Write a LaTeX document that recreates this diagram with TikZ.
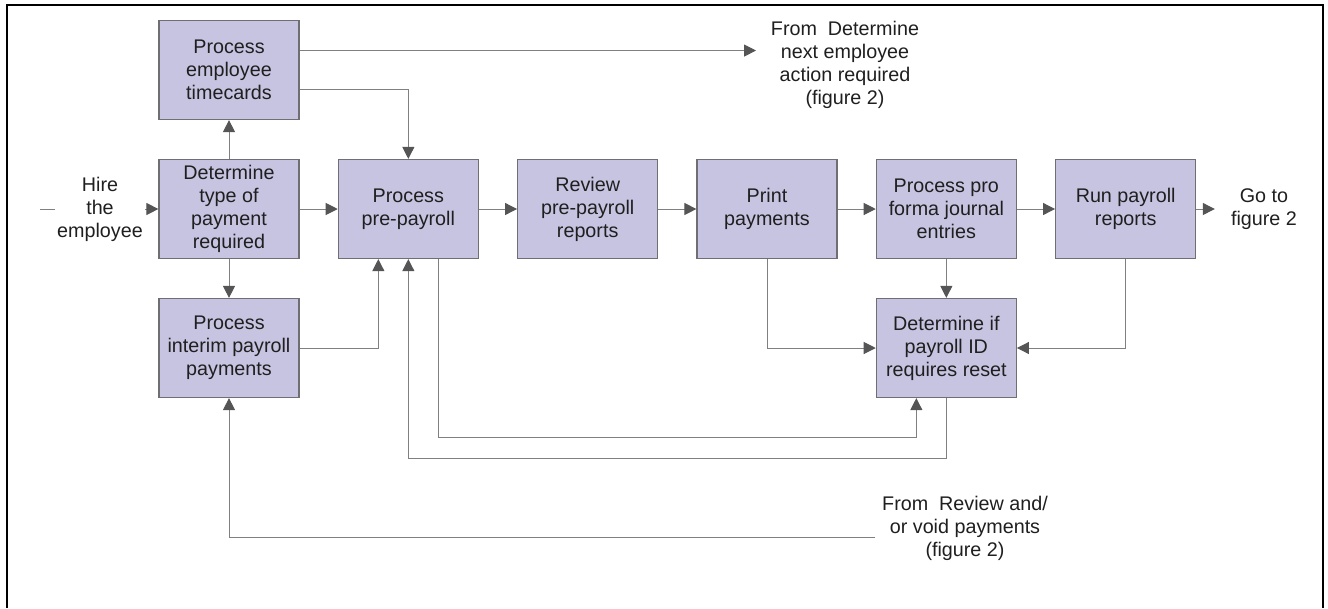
\documentclass[tikz,border=0pt]{standalone}
\usepackage{fontspec}
\setmainfont{Liberation Sans}
\usetikzlibrary{arrows.meta}

\definecolor{boxfill}{RGB}{198,196,225}
\definecolor{boxline}{RGB}{110,110,115}
\definecolor{linegray}{RGB}{128,128,128}
\definecolor{tipgray}{RGB}{85,85,85}

\tikzstyle{box}   = [rectangle, draw=boxline, fill=boxfill, line width=0.9pt, minimum width=105pt, minimum height=74.25pt, inner sep=2pt, align=center]
\tikzstyle{lbl}   = [align=center, inner sep=2pt]
\tikzstyle{arrow} = [draw=linegray, line width=0.75pt, -{Triangle[length=9pt, width=9pt, color=tipgray]}]

\begin{document}
\begin{tikzpicture}[x=0.75pt, y=-0.75pt, font=\fontsize{14.8}{17.3}\selectfont, text=black!88]
\useasboundingbox (0,0) rectangle (1328,608);
\draw [line width=1.7pt] (7,608) -- (7,5) -- (1323,5) -- (1323,608);

\node (det)   [box] at (229,209) {Determine\\type of\\payment\\required};
\node (time)  [box, node distance=104.25pt, above of=det]   {Process\\employee\\timecards};
\node (int)   [box, node distance=104.25pt, below of=det]   {Process\\interim payroll\\payments};
\node (pre)   [box, node distance=134.5pt, right of=det]    {Process\\pre-payroll};
\node (rev)   [box, node distance=134.5pt, right of=pre]    {Review\\pre-payroll\\reports};
\node (print) [box, node distance=134.5pt, right of=rev]    {Print\\payments};
\node (forma) [box, node distance=134.5pt, right of=print]  {Process pro\\forma journal\\entries};
\node (run)   [box, node distance=134.5pt, right of=forma]  {Run payroll\\reports};
\node (rst)   [box, node distance=104.25pt, below of=forma] {Determine if\\payroll ID\\requires reset};

\node (goto)     [lbl, inner sep=12pt] at (1264,209) {Go to\\figure 2};
\node (fromnext) [lbl, inner sep=11pt] at (845,65)   {From~~Determine\\next employee\\action required\\(figure 2)};
\node (fromrev)  [lbl, inner sep=5pt]  at (965,528)  {From~~Review and/\\or void payments\\(figure 2)};

\coordinate (hirestart) at (40,209);
\coordinate (loopin)    at (600,437);
\coordinate (loopout)   at (600,458);

\draw [arrow] (hirestart) -- (det);
\node (hire) [lbl, fill=white] at (100,209) {Hire\\the\\employee};

\draw [arrow] (det) -- (time);
\draw [arrow] (det) -- (int);
\draw [arrow] (det) -- (pre);
\draw [arrow] ([yshift=14.6pt]time.east) -- ([yshift=14.6pt]time.east -| fromnext.west);
\draw [arrow] ([yshift=-14.6pt]time.east) -| (pre.north);
\draw [arrow] (int.east) -| ([xshift=-22.5pt]pre.south);
\draw [arrow] (pre) -- (rev);
\draw [arrow] (rev) -- (print);
\draw [arrow] (print) -- (forma);
\draw [arrow] (forma) -- (run);
\draw [arrow] (run) -- (goto);
\draw [arrow] (forma) -- (rst);
\draw [arrow] (print.south) |- (rst.west);
\draw [arrow] (run.south) |- (rst.east);
\draw [arrow] ([xshift=22.5pt]pre.south) |- (loopin) -| ([xshift=-22.5pt]rst.south);
\draw [arrow] (rst.south) |- (loopout) -| (pre.south);
\draw [arrow] ([yshift=-6.75pt]fromrev.west) -| (int.south);
\end{tikzpicture}
\end{document}
